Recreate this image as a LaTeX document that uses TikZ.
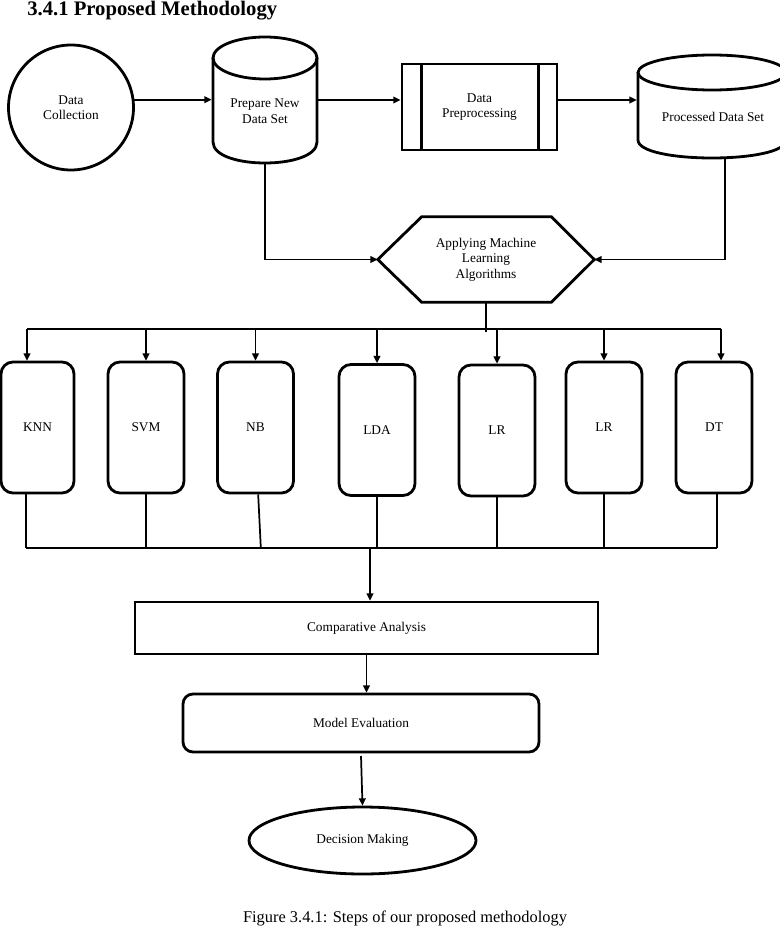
\documentclass[tikz,border=0pt]{standalone}
\usepackage{fontspec}
\setmainfont{Liberation Serif}
\usetikzlibrary{shapes.geometric,arrows.meta}
\begin{document}
\begin{tikzpicture}[x=0.75pt,y=-0.75pt,
  every node/.style={font=\fontsize{10}{11.6}\selectfont, align=center, inner sep=0pt},
  shp/.style={draw=black, line width=2.1pt},
  conn/.style={draw=black, line width=1.3pt},
  arr/.style={conn, -{Triangle[length=5.5pt,width=5pt]}},
  cylbox/.style={draw=none, outer sep=1pt},
  algo/.style={shp, rounded corners=9pt, minimum width=57pt, minimum height=98.25pt, outer sep=1pt},
]
\useasboundingbox (0,0) rectangle (780,927);

% title and caption
\node[anchor=base west, font=\bfseries\fontsize{15.5}{18}\selectfont] (title) at (27,15.5) {3.4.1 Proposed Methodology};
\node[anchor=base, font=\fontsize{12.3}{14}\selectfont] (cap) at (405,922) {Figure 3.4.1: Steps of our proposed methodology};

% Data collection
\node[shp, circle, minimum size=93.75pt] (dc) at (71,107.5) {Data\\Collection};

% Prepare new data set (cylinder)
\node[cylbox, minimum width=78pt, minimum height=94.5pt] (pn) at (265,100) {};
\draw[shp] (265,58) ellipse [x radius=39pt, y radius=15.75pt];
\draw[shp] (213,58) -- (213,142) .. controls (213,170) and (317,170) .. (317,142) -- (317,58);
\node (pnt) at (265,111) {Prepare New\\Data Set};

% Data preprocessing
\node[shp, minimum width=116.25pt, minimum height=64.5pt] (dp) at (479.5,107) {Data\\Preprocessing};
\draw[shp] ([xshift=15.75pt]dp.north west) -- ([xshift=15.75pt]dp.south west);
\draw[shp] ([xshift=-15pt]dp.north east) -- ([xshift=-15pt]dp.south east);

% Processed data set (cylinder)
\node[cylbox, minimum width=111pt, minimum height=77.25pt] (pd) at (712,106.5) {};
\draw[shp] (712,72.5) ellipse [x radius=55.5pt, y radius=13.125pt];
\draw[shp] (638,72.5) -- (638,140) .. controls (638,164) and (786,164) .. (786,140) -- (786,72.5);
\node (pdt) at (713,117) {Processed Data Set};

% Hexagon
\node[minimum width=162pt, minimum height=63.75pt] (ml) at (486,259.5) {Applying Machine\\Learning\\Algorithms};
\draw[shp, line join=miter] (ml.west) -- ([xshift=33pt]ml.north west) -- ([xshift=-32.25pt]ml.north east)
  -- (ml.east) -- ([xshift=-32.25pt]ml.south east) -- ([xshift=33pt]ml.south west) -- cycle;

% top connectors
\draw[arr] (dc.7) -- (dc.7 -| pn.west);
\draw[arr] (pn.east) -- (pn.east -| dp.west);
\draw[arr] (pn.east -| dp.east) -- (pn.east -| pd.west);
\draw[arr] (pn.south) |- (ml.west);
\draw[arr] ([xshift=9.75pt]pd.south) |- (ml.east);

% algorithm boxes
\node[algo, minimum width=54.75pt] (knn) at (37.5,427.5) {KNN};
\node[algo] (svm) at (146,427.5) {SVM};
\node[algo] (nb)  at (255.5,427.5) {NB};
\node[algo] (lda) at (377,430) {LDA};
\node[algo] (lra) at (497,430.5) {LR};
\node[algo] (lrb) at (604,427.5) {LR};
\node[algo] (dt)  at (714,427.5) {DT};

% top bus
\coordinate (busL) at (27,329);
\coordinate (busR) at (721,329);
\draw[conn] (busL) -- (busR);
\draw[conn] (ml.south) -- ([yshift=-2.5pt]ml.south |- busL);
\draw[arr] (busL) -- (busL |- knn.north);
\draw[arr] (svm.north |- busL) -- (svm.north);
\draw[arr] (nb.north |- busL) -- (nb.north);
\draw[arr] (lda.north |- busL) -- (lda.north);
\draw[arr] (lra.north |- busL) -- (lra.north);
\draw[arr] (lrb.north |- busL) -- (lrb.north);
\draw[arr] (busR) -- (busR |- dt.north);

% bottom bus
\coordinate (bbL) at (26,548);
\coordinate (bbR) at (717,548);
\coordinate (bbM) at (370,548);
\draw[conn] (bbL) -- (bbR);
\draw[conn] (bbL |- knn.south) -- (bbL);
\draw[conn] (svm.south) -- (svm.south |- bbL);
\draw[conn] ([xshift=2pt]nb.south) -- ([xshift=4pt]nb.south |- bbL);
\draw[conn] (lda.south) -- (lda.south |- bbL);
\draw[conn] (lra.south) -- (lra.south |- bbL);
\draw[conn] (lrb.south) -- (lrb.south |- bbL);
\draw[conn] (bbR |- dt.south) -- (bbR);

% lower part
\node[shp, minimum width=347.25pt, minimum height=39pt, outer sep=1pt] (ca) at (366.5,628) {Comparative Analysis};
\node[shp, rounded corners=7.5pt, minimum width=267pt, minimum height=43.5pt, outer sep=1pt] (me) at (361,723) {Model Evaluation};
\node[shp, ellipse, minimum width=170.25pt, minimum height=50.25pt, outer sep=1pt] (dm) at (362.5,840.5) {Decision Making};

\draw[arr] (bbM) -- (bbM |- ca.north);
\draw[arr] (ca.south) -- (ca.south |- me.north);
\draw[arr] ([yshift=-2pt]me.south) -- (dm.north);
\end{tikzpicture}
\end{document}
